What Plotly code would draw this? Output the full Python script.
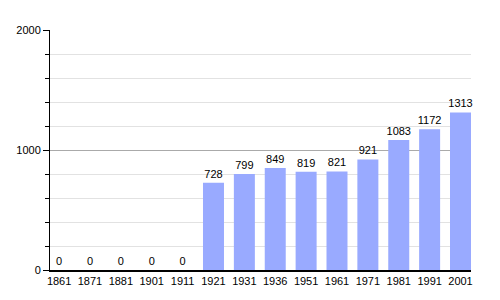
import plotly.graph_objects as go

years = ["1861", "1871", "1881", "1901", "1911", "1921", "1931", "1936",
         "1951", "1961", "1971", "1981", "1991", "2001"]
population = [0, 0, 0, 0, 0, 728, 799, 849, 819, 821, 921, 1083, 1172, 1313]

fig = go.Figure(go.Bar(
    x=list(range(len(years))),
    y=population,
    marker=dict(color="#99AAFF", line=dict(width=0)),
    width=0.68,
    text=[str(v) for v in population],
    textposition="outside",
    cliponaxis=False,
    textfont=dict(family="Liberation Sans, Arial, sans-serif", size=11, color="black"),
))

fig.update_layout(
    width=500, height=300,
    margin=dict(l=50, r=29, t=30, b=30),
    plot_bgcolor="white", paper_bgcolor="white",
    showlegend=False,
    uniformtext=dict(minsize=11, mode="show"),
    font=dict(family="Liberation Sans, Arial, sans-serif", size=11, color="black"),
    xaxis=dict(
        tickmode="array",
        tickvals=list(range(len(years))),
        ticktext=years,
        range=[-0.295, 13.34],
        showline=True, linecolor="black", linewidth=1.5,
        showgrid=False, ticks="", zeroline=False,
        tickfont=dict(size=11),
    ),
    yaxis=dict(
        range=[0, 2000],
        tickvals=[0, 1000, 2000],
        showline=True, linecolor="black", linewidth=1,
        ticks="outside", ticklen=6, tickcolor="black", tickwidth=1,
        showgrid=True, gridcolor="#aaaaaa", gridwidth=1,
        zeroline=False,
        minor=dict(dtick=200, showgrid=True, gridcolor="#e2e2e2",
                   ticks="outside", ticklen=4, tickcolor="black"),
        tickfont=dict(size=11),
    ),
)

fig.write_html("out.html")
